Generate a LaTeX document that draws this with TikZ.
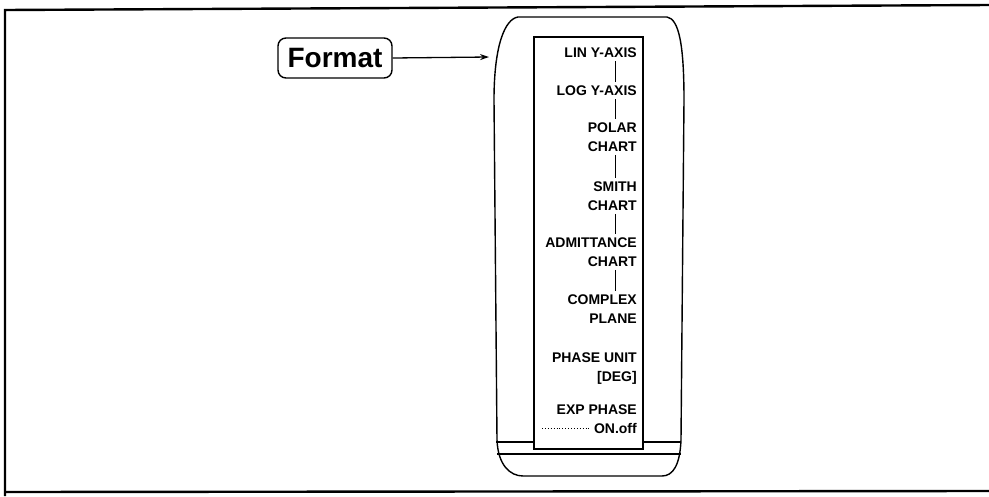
\documentclass[tikz,border=0pt]{standalone}
\usepackage{fontspec}
\setmainfont{Liberation Sans}
\usetikzlibrary{arrows.meta}
\begin{document}
\begin{tikzpicture}[x=1pt,y=-1pt,
  frame/.style={line width=2.4pt,black},
  keyline/.style={line width=1.4pt,black},
  item/.style={anchor=north east,inner sep=0pt,align=right,
    font=\fontsize{14}{18.5}\selectfont\bfseries},
  link/.style={line width=1pt,shorten <=3pt,shorten >=4pt},
  softkey/.style={draw,line width=1.4pt,rounded corners=8pt,minimum width=114pt,
    minimum height=40pt,inner sep=0pt,font=\fontsize{28}{30}\selectfont\bfseries}]
\useasboundingbox (0,0) rectangle (989,496);
% outer frame
\draw[frame] (989,5) -- (5,10) -- (5,496);
\draw[frame] (5,492) -- (989,491);
% Format key
\node[softkey] (format) at (335,58) {Format};
\coordinate (tip) at (489,57);
\draw[line width=1.3pt,-{Stealth[length=9pt,width=6pt]}] (format.east) -- (tip);
% key cap outline
\draw[keyline] (518,17) -- (667,17)
  .. controls (679,19) and (684,45) .. (684,100) -- (681,440)
  .. controls (680,465) and (673,476) .. (662,476) -- (523,476)
  .. controls (510,476) and (498,465) .. (497,440) -- (494,100)
  .. controls (494,45) and (505,19) .. (518,17) -- cycle;
\draw[keyline] (496,442) -- (534,442);
\draw[keyline] (643,442) -- (681,442);
\draw[keyline] (497,454) -- (681,454);
% key face
\draw[line width=1.2pt] (534,37) rectangle (643,449);
\coordinate (axis) at (615,0);
\node[item] (lin) at (637,48) {LIN Y-AXIS};
\node[item] (log) at (637,86) {LOG Y-AXIS};
\node[item] (polar) at (637,123) {POLAR\\CHART};
\node[item] (smith) at (637,182) {SMITH\\CHART};
\node[item] (admit) at (637,238) {ADMITTANCE\\CHART};
\node[item] (complex) at (637,295) {COMPLEX\\PLANE};
\node[item] (phase) at (637,353) {PHASE UNIT\\{}[DEG]};
\node[item] (exp) at (637,405) {EXP PHASE\\ON.off};
\draw[link] (lin.south -| axis) -- (log.north -| axis);
\draw[link] (log.south -| axis) -- (polar.north -| axis);
\draw[link] (polar.south -| axis) -- (smith.north -| axis);
\draw[link] (smith.south -| axis) -- (admit.north -| axis);
\draw[link] (admit.south -| axis) -- (complex.north -| axis);
\coordinate (dotstart) at (542,428);
\coordinate (dotend) at (591,428);
\draw[line width=0.9pt,dotted] (dotstart) -- (dotend);
\end{tikzpicture}
\end{document}
